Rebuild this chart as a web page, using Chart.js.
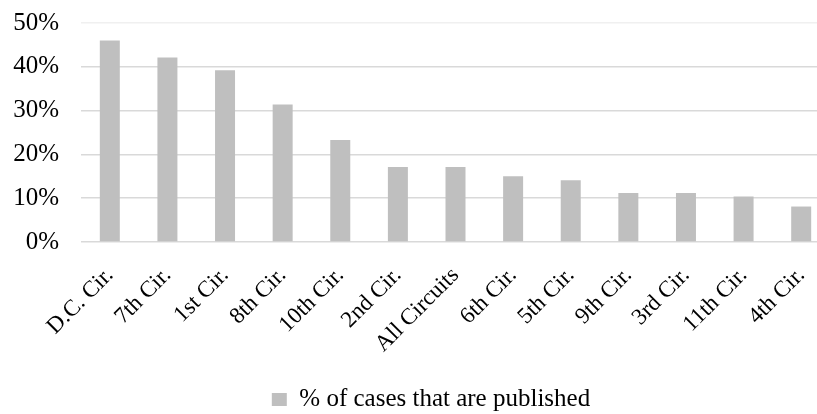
<!DOCTYPE html>
<html>
<head>
<meta charset="utf-8">
<title>% of cases that are published</title>
<script src="https://cdn.jsdelivr.net/npm/chart.js@4/dist/chart.umd.min.js"></script>
<style>
    html, body { margin: 0; padding: 0; background: #fff; overflow: hidden; }
    .chart-box { width: 830px; height: 414px; position: relative; }
</style>
</head>
<body>
<div class="chart-box"><canvas id="publishedChart"></canvas></div>
<script>
// Données du graphique
const circuits = ["D.C. Cir.", "7th Cir.", "1st Cir.", "8th Cir.", "10th Cir.", "2nd Cir.", "All Circuits",
    "6th Cir.", "5th Cir.", "9th Cir.", "3rd Cir.", "11th Cir.", "4th Cir."];
const publishedPct = [46.0, 42.1, 39.2, 31.4, 23.3, 17.1, 17.1, 15.0, 14.1, 11.2, 11.2, 10.4, 8.1];
const yTicks = [0, 10, 20, 30, 40, 50];

const serif = "'Liberation Serif', 'Times New Roman', serif";

// Placer la légende comme dans l'original
const legendShift = {
    id: "legendShift",
    afterLayout(chart) {
        const lg = chart.legend;
        lg.left += 10;
        lg.right += 10;
        lg.top += 8;
        lg.bottom += 8;
    }
};

const ctx = document.getElementById("publishedChart");
new Chart(ctx.getContext("2d"), {
    type: "bar",
    data: {
        labels: circuits,
        datasets: [
            {
                label: "% of cases that are published",
                data: publishedPct,
                backgroundColor: "#bfbfbf",
                borderWidth: 0,
                categoryPercentage: 1,
                barPercentage: 0.347,
            },
        ],
    },
    options: {
        responsive: true,
        maintainAspectRatio: false,
        animation: false,
        layout: { padding: { top: 23, left: 12, right: 0, bottom: 0 } },
        scales: {
            x: {
                grid: { display: false, drawTicks: false },
                border: { display: false },
                ticks: {
                    color: "#000",
                    font: { family: serif, size: 23 },
                    minRotation: 45,
                    maxRotation: 45,
                    padding: 20,
                    autoSkip: false,
                },
                afterFit(scale) {
                    scale.height = 134;
                    scale.paddingLeft = 0;
                    scale.paddingRight = 0;
                },
            },
            y: {
                min: 0,
                max: 50,
                afterBuildTicks(scale) {
                    scale.ticks = yTicks.map(v => ({ value: v }));
                },
                afterFit(scale) {
                    scale.width = 69;
                    scale.paddingTop = 0;
                    scale.paddingBottom = 0;
                },
                grid: {
                    drawTicks: false,
                    lineWidth: 1.5,
                    color: c => (c.tick && c.tick.value === 50 ? "#f0f0f0" : "#d9d9d9"),
                },
                border: { display: false },
                ticks: {
                    color: "#000",
                    font: { family: serif, size: 25 },
                    padding: 22,
                    callback: v => v + "%",
                },
            },
        },
        plugins: {
            legend: {
                position: "bottom",
                labels: {
                    color: "#000",
                    font: { family: serif, size: 25 },
                    boxWidth: 15,
                    boxHeight: 13,
                    padding: 3,
                },
            },
            tooltip: { enabled: false },
        },
    },
    plugins: [legendShift],
});
</script>
</body>
</html>
